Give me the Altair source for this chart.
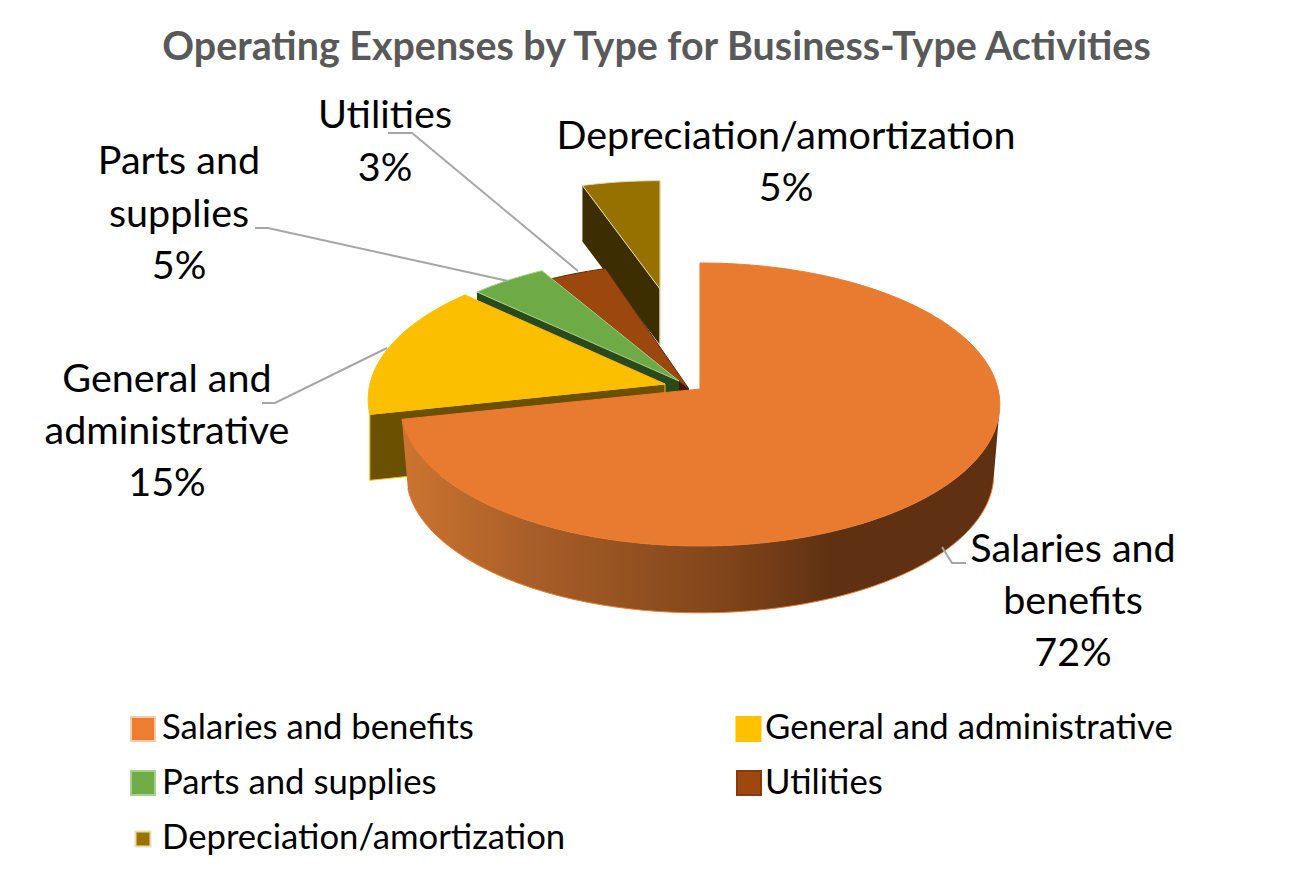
import numpy as np
import pandas as pd
import altair as alt

# ---- data ----
categories = ["Salaries and benefits", "General and administrative", "Parts and supplies",
              "Utilities", "Depreciation/amortization"]
shares = [71.6, 15.4, 4.6, 3.4, 5]
title_text = "Operating Expenses by Type for Business-Type Activities"

# ---- style ----
top_colors = ["#E97B31", "#FBBF00", "#6EAB46", "#9C470E", "#967100"]
wall_colors = ["#5F3112", "#6A5000", "#2A4A1B", "#3F1C05", "#3D2E00"]
edge_colors = ["#E97B31", "#FBBF00", "#A9D18E", "#5A2A08", "#E8DFB0"]
swatch_colors = ["#ED7D31", "#FFC000", "#70AD47", "#9E480E", "#997300"]
swatch_strokes = ["#F8CBAD", "#FFC000", "#A9D18E", "#843C0C", "#E8DFB0"]
swatch_sizes = [24, 24, 24, 24, 15]

# ---- layout (reference pixels) ----
FONT = "Lato"
RADIUS, HEIGHT, PERSP = 298.0, 139.8, 0.1095
apex_x = [700, 665, 679, 689, 660]
apex_y = [388, 383, 380, 388, 288]
scale_x = [1, 0.99, 1, 1, 0.93]
scale_y = [1, 1, 1, 1, 0.86]
depth = [70, 66, 66, 60, 56]

X_SCALE = alt.Scale(domain=[8, 1299], range=[0, 1291])
Y_SCALE = alt.Scale(domain=[867, 78], range=[789, 0])


def rim(i, deg):
    t = np.radians(deg)
    u, v = np.sin(t), np.cos(t)
    s = 1 / (1 + PERSP * v)
    return (apex_x[i] + scale_x[i] * RADIUS * u * s,
            apex_y[i] - scale_y[i] * HEIGHT * v * s)


def poly(points, fill, stroke=None, sw=1.0):
    pts = np.array(points, dtype=float)
    df = pd.DataFrame({"x": pts[:, 0], "y": pts[:, 1], "i": np.arange(len(pts))})
    kw = dict(fill=fill, clip=False)
    if stroke:
        kw.update(stroke=stroke, strokeWidth=sw)
    else:
        kw.update(strokeWidth=0)
    return alt.Chart(df).mark_line(**kw).encode(
        x=alt.X("x:Q", scale=X_SCALE, axis=None),
        y=alt.Y("y:Q", scale=Y_SCALE, axis=None),
        order=alt.Order("i:Q"),
    )


def top_face(i, a0, a1):
    arc = [rim(i, d) for d in np.linspace(a0, a1, max(3, int(a1 - a0) + 1))]
    return poly([(apex_x[i], apex_y[i])] + arc + [(apex_x[i], apex_y[i])], top_colors[i],
                edge_colors[i], 1.0)


def radial_wall(i, deg, color, stroke=None):
    rx, ry = rim(i, deg)
    d = depth[i]
    return poly([(rx, ry), (apex_x[i], apex_y[i]), (apex_x[i], apex_y[i] + d), (rx, ry + d),
                 (rx, ry)], color, stroke, 1.0)


edges = np.concatenate([[0], np.cumsum(shares)]) / sum(shares) * 360.0
layers = []

# far slice first, then towards the viewer
layers.append(radial_wall(4, edges[4], wall_colors[4]))
layers.append(radial_wall(4, edges[5], wall_colors[4], edge_colors[4]))
layers.append(top_face(4, edges[4], edges[5]))
layers.append(radial_wall(3, edges[3], wall_colors[3]))
layers.append(top_face(3, edges[3], edges[4]))
layers.append(radial_wall(2, edges[2], wall_colors[2]))
layers.append(top_face(2, edges[2], edges[3]))
layers.append(radial_wall(1, edges[1], wall_colors[1], top_colors[1]))
layers.append(top_face(1, edges[1], edges[2]))

# big slice: curved wall with a horizontal gradient
upper = [rim(0, d) for d in np.linspace(100, edges[1], 160)]
t = np.radians(np.linspace(98, edges[1], 160))
u_, v_ = np.sin(t), np.cos(t)
s_ = 1 / (1 + PERSP * v_)
lower = list(zip(700 + 292 * u_ * s_, 458 - 137 * v_ * s_))
wall_grad = alt.LinearGradient(
    gradient="linear", x1=0, x2=1, y1=0, y2=0,
    stops=[alt.GradientStop(color="#CC7430", offset=0),
           alt.GradientStop(color="#A85E28", offset=0.22),
           alt.GradientStop(color="#7F4419", offset=0.55),
           alt.GradientStop(color="#5F3112", offset=0.72),
           alt.GradientStop(color="#5F3112", offset=1)],
)
layers.append(poly(upper + lower[::-1] + [upper[0]], wall_grad))
layers.append(poly(lower, "transparent", "#ED7D31", 1.0))
layers.append(top_face(0, edges[0], edges[1]))

# leader lines
leader_sets = [
    [(942, 546), (952, 562), (966, 562)],
    [(387, 347), (275, 402), (262, 402)],
    [(508, 280), (268, 227), (255, 227)],
    [(578, 270), (412, 132), (388, 132)],
]
for pts in leader_sets:
    p = np.array(pts, dtype=float)
    df = pd.DataFrame({"x": p[:, 0], "y": p[:, 1], "i": range(len(p))})
    layers.append(alt.Chart(df).mark_line(color="#A6A6A6", strokeWidth=2).encode(
        x=alt.X("x:Q", scale=X_SCALE, axis=None),
        y=alt.Y("y:Q", scale=Y_SCALE, axis=None),
        order=alt.Order("i:Q")))

# data labels
label_lines = [
    (["Salaries and", "benefits"], 0, 1073, 561, 52),
    (["General and", "administrative"], 1, 167, 391, 52),
    (["Parts and", "supplies"], 2, 179, 173, 52.5),
    (["Utilities"], 3, 385, 127, 52.5),
    (["Depreciation/amortization"], 4, 786, 148, 52),
]
rows = []
for lines, idx, x, y, step in label_lines:
    texts = lines + [f"{round(shares[idx])}%"]
    for k, tx in enumerate(texts):
        rows.append({"x": x, "y": y + k * step, "t": tx})
layers.append(alt.Chart(pd.DataFrame(rows)).mark_text(
    font=FONT, fontSize=39.5, color="#000000", align="center", baseline="alphabetic").encode(
    x=alt.X("x:Q", scale=X_SCALE, axis=None),
    y=alt.Y("y:Q", scale=Y_SCALE, axis=None),
    text="t:N"))

# legend
legend_x = [143, 748.5, 143, 749, 143]
legend_y = [728, 728, 782, 782, 838]
text_x = [162, 765, 162, 765, 162]
text_y = [738, 738, 793, 793, 848]
leg = pd.DataFrame({"c": categories, "sx": legend_x, "sy": legend_y, "tx": text_x, "ty": text_y,
                    "fill": swatch_colors, "st": swatch_strokes, "size": swatch_sizes})
leg["area"] = leg["size"] ** 2
layers.append(alt.Chart(leg).mark_point(shape="square", filled=True, opacity=1, strokeWidth=2).encode(
    x=alt.X("sx:Q", scale=X_SCALE, axis=None),
    y=alt.Y("sy:Q", scale=Y_SCALE, axis=None),
    fill=alt.Fill("fill:N", scale=None),
    stroke=alt.Stroke("st:N", scale=None),
    size=alt.Size("area:Q", scale=None)))
layers.append(alt.Chart(leg).mark_text(
    font=FONT, fontSize=34.7, color="#000000", align="left", baseline="alphabetic").encode(
    x=alt.X("tx:Q", scale=X_SCALE, axis=None),
    y=alt.Y("ty:Q", scale=Y_SCALE, axis=None),
    text="c:N"))

chart = alt.layer(*layers).properties(
    width=1291, height=789, background="#FFFFFF",
    padding={"top": 19, "left": 0, "right": 0, "bottom": 0},
    title=alt.TitleParams(title_text, font=FONT, fontSize=39.4, fontWeight="bold", color="#595959",
                          anchor="middle", offset=11, dx=3),
).configure_view(strokeWidth=0, stroke="transparent")

chart.save("out.html", embed_options={"renderer": "svg", "actions": False})
